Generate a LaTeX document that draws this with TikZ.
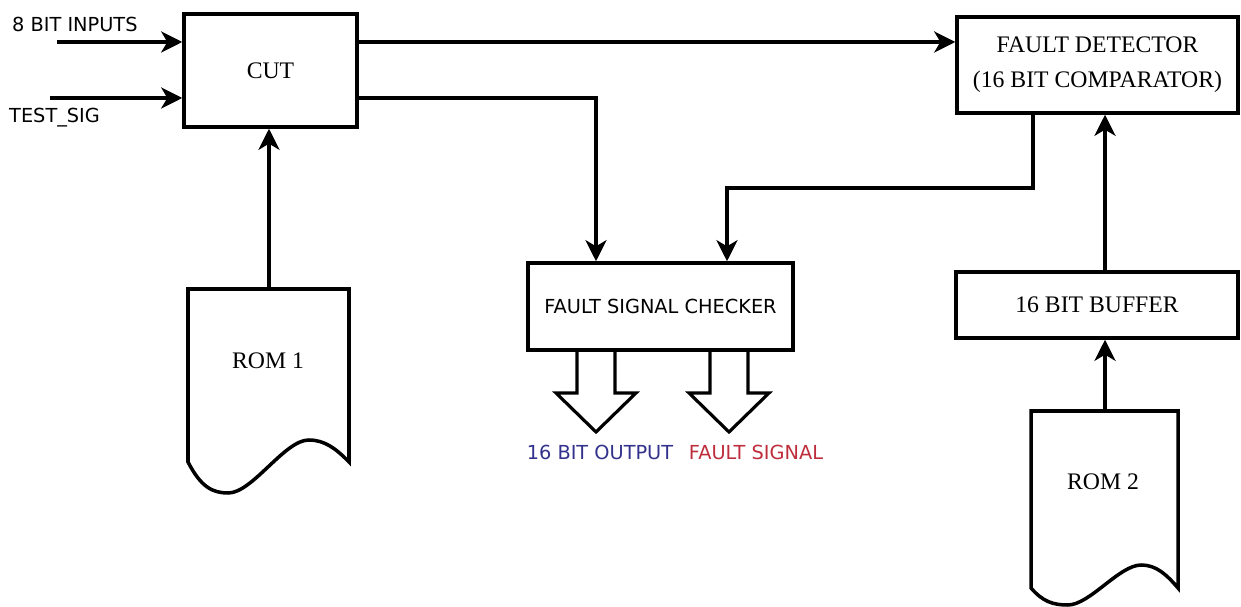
\documentclass[tikz,border=0pt]{standalone}
\usepackage{fontspec}
\usepackage{tikz}
\setmainfont{Liberation Serif}
\newfontfamily\labelfont{DejaVu Sans}
\usetikzlibrary{calc, positioning, arrows.meta}
\definecolor{outblue}{RGB}{50,50,140}
\definecolor{sigred}{RGB}{190,45,60}
% rom outline: left, top, width, height, dip, rise
\newcommand{\romshape}[6]{%
  \draw[line width=2pt, line join=miter] (#1,{#2+#4}) -- (#1,#2) -- ({#1+#3},#2) -- ({#1+#3},{#2+#4})
    .. controls ({#1+0.92*#3},{#2+#4-0.6*#6}) and ({#1+0.85*#3},{#2+#4-#6}) .. ({#1+0.75*#3},{#2+#4-#6})
    .. controls ({#1+0.6*#3},{#2+#4-#6}) and ({#1+0.4*#3},{#2+#4+#5}) .. ({#1+0.25*#3},{#2+#4+#5})
    .. controls ({#1+0.15*#3},{#2+#4+#5}) and ({#1+0.08*#3},{#2+#4+0.8*#5}) .. (#1,{#2+#4}) -- cycle;}
\newcommand{\fatarrow}[1]{%
  \draw[hollow] ({#1-19},350) -- ({#1-19},393) -- ({#1-40},393) -- (#1,432) -- ({#1+40},393) -- ({#1+19},393) -- ({#1+19},350);}

\begin{document}
\begin{tikzpicture}[x=0.02cm, y=-0.02cm,
    block/.style={draw, line width=2pt, fill=white, font=\fontsize{13.5}{20}\selectfont, align=center, inner sep=0pt},
    sig/.style={-{Stealth[length=12pt,width=12pt,inset=3.5pt]}, line width=2pt},
    siglabel/.style={font=\labelfont\fontsize{11}{13}\selectfont},
    outlabel/.style={font=\labelfont\fontsize{11}{13}\selectfont},
    hollow/.style={line width=1.8pt, line join=miter}]
    \useasboundingbox (0,0) rectangle (1241,607);

    % Blocks
    \node[block, minimum width=3.46cm, minimum height=2.26cm] (cut) at (270.5,70.5) {CUT};
    \node[block, minimum width=5.62cm, minimum height=1.92cm] (det) at (1097.5,65) {FAULT DETECTOR\\(16 BIT COMPARATOR)};
    \node[block, outlabel, minimum width=5.3cm, minimum height=1.74cm] (chk) at (660.5,306.5) {FAULT SIGNAL CHECKER};
    \node[block, minimum width=5.64cm, minimum height=1.32cm] (buf) at (1097,305) {16 BIT BUFFER};

    % ROMs
    \romshape{188}{289}{161}{173}{31}{22}
    \node[font=\fontsize{13.5}{15}\selectfont] (rom1) at (268,361) {ROM 1};
    \coordinate (rom1top) at (269,289);
    \romshape{1031}{411}{147}{177}{17}{23}
    \node[font=\fontsize{13.5}{15}\selectfont] (rom2) at (1103,482) {ROM 2};
    \coordinate (rom2top) at (1105,411);

    % Inputs
    \coordinate (in8) at (57,42);
    \coordinate (intest) at (50,98);
    \node[siglabel, anchor=west] (lbl8) at (6,24) {8 BIT INPUTS};
    \node[siglabel, anchor=west] (lbltest) at (3,118) {TEST\_SIG};
    \draw[sig] (in8) -- (in8 -| cut.west);
    \draw[sig] (intest) -- (intest -| cut.west);
    \draw[sig] (rom1top) -- (rom1top |- cut.south);

    % CUT outputs
    \coordinate (tap1) at (596,0);
    \draw[sig] (cut.east |- in8) -- (det.west |- in8);
    \draw[sig] (cut.east |- intest) -| (tap1 |- chk.north);

    % Detector to checker
    \coordinate (detout) at (1033,0);
    \coordinate (tap2) at (727,188);
    \draw[sig] (detout |- det.south) |- (tap2) -- (tap2 |- chk.north);

    % Buffer chain
    \coordinate (riser) at (1105,0);
    \draw[sig] (riser |- buf.north) -- (riser |- det.south);
    \draw[sig] (rom2top) -- (rom2top |- buf.south);

    % Outputs
    \fatarrow{596}
    \fatarrow{729}
    \node[outlabel, text=outblue] (outlbl) at (600,452) {16 BIT OUTPUT};
    \node[outlabel, text=sigred] (fltlbl) at (756,452) {FAULT SIGNAL};
\end{tikzpicture}
\end{document}
